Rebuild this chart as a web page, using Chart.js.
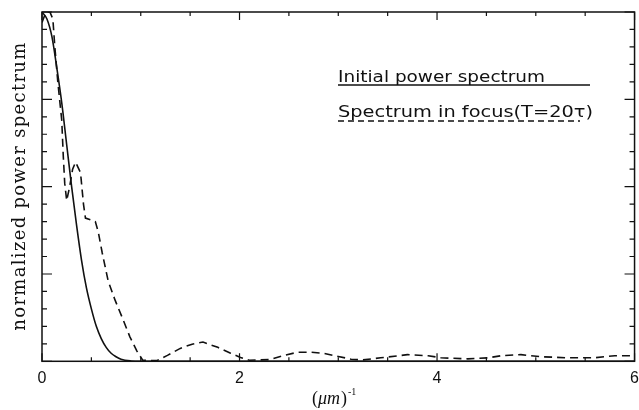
<!DOCTYPE html>
<html>
<head>
<meta charset="utf-8">
<script src="https://cdn.jsdelivr.net/npm/chart.js@4.4.0/dist/chart.umd.min.js"></script>
<style>
  body { margin: 0; background: #fff; }
  #wrap { width: 639px; height: 410px; }
</style>
</head>
<body>
<div id="wrap"><canvas id="spectrumChart" width="639" height="410"></canvas></div>
<script>
// Data
const initialX = [0, 0.05, 0.1, 0.15, 0.2, 0.25, 0.3, 0.35, 0.4, 0.45, 0.5, 0.55,
  0.6, 0.65, 0.7, 0.75, 0.8, 0.9, 1.0, 6];
const initialY = [1.0, 0.98, 0.93, 0.84, 0.74, 0.62, 0.50, 0.39, 0.29, 0.21, 0.15, 0.10,
  0.065, 0.04, 0.023, 0.013, 0.006, 0.001, 0, 0];

const focusX = [0, 0.04, 0.08, 0.11, 0.13, 0.16, 0.20, 0.215, 0.23, 0.25, 0.28, 0.31,
  0.34, 0.39, 0.42, 0.44, 0.49, 0.54, 0.57, 0.61, 0.67, 0.74, 0.82, 0.89, 0.96, 1.02,
  1.10, 1.17, 1.27, 1.40, 1.52, 1.63, 1.78, 1.91, 2.01, 2.10, 2.31, 2.45, 2.59, 2.72,
  2.85, 3.0, 3.13, 3.25, 3.43, 3.7, 3.91, 4.04, 4.31, 4.52, 4.65, 4.85, 5.06, 5.33,
  5.59, 5.8, 6.0];
const focusY = [0.97, 1.0, 1.0, 0.98, 0.90, 0.80, 0.69, 0.59, 0.51, 0.46, 0.50, 0.55,
  0.57, 0.54, 0.45, 0.41, 0.405, 0.40, 0.37, 0.31, 0.23, 0.175, 0.12, 0.07, 0.03, 0.003,
  0.002, 0.003, 0.017, 0.037, 0.049, 0.055, 0.04, 0.023, 0.011, 0.003, 0.005, 0.017,
  0.026, 0.026, 0.023, 0.014, 0.006, 0.004, 0.01, 0.019, 0.016, 0.01, 0.007, 0.01,
  0.016, 0.019, 0.013, 0.01, 0.01, 0.016, 0.016];

const xTickLabels = [0, 2, 4, 6];
const legendLabels = ['Initial power spectrum', 'Spectrum in focus(T=20\u03c4)'];

const ink = '#111';

const toPoints = (xs, ys) => xs.map((x, i) => ({x: x, y: ys[i]}));

// Frame, inward ticks, axis titles and the in-plot legend
const framePlugin = {
  id: 'frame',
  afterDraw(chart) {
    const {ctx, chartArea: a, scales: {x, y}} = chart;
    ctx.save();
    ctx.strokeStyle = ink;
    ctx.lineWidth = 1.5;
    ctx.strokeRect(a.left, a.top, a.right - a.left, a.bottom - a.top);

    ctx.lineWidth = 1.2;
    ctx.beginPath();
    for (let i = 0; i <= 20; i++) {
      const py = y.getPixelForValue(i * 0.05);
      const len = i % 5 === 0 ? 10 : 5;
      ctx.moveTo(a.left, py); ctx.lineTo(a.left + len, py);
      ctx.moveTo(a.right, py); ctx.lineTo(a.right - len, py);
    }
    for (let i = 0; i <= 12; i++) {
      const px = x.getPixelForValue(i * 0.5);
      const len = i % 4 === 0 ? 8 : 4;
      ctx.moveTo(px, a.bottom); ctx.lineTo(px, a.bottom - len);
      ctx.moveTo(px, a.top); ctx.lineTo(px, a.top + len);
    }
    ctx.stroke();

    // y axis title, stretched to the reference length
    ctx.fillStyle = ink;
    ctx.save();
    ctx.translate(20, 186);
    ctx.rotate(-Math.PI / 2);
    ctx.font = '18px "DejaVu Serif"';
    ctx.textAlign = 'center';
    ctx.textBaseline = 'middle';
    const yTitle = 'normalized power spectrum';
    const yw = ctx.measureText(yTitle).width;
    ctx.letterSpacing = Math.max(0, (288 - yw) / (yTitle.length - 1)) + 'px';
    ctx.fillText(yTitle, 0, 0);
    ctx.restore();

    // x axis title: (μm)⁻¹
    ctx.textBaseline = 'alphabetic';
    ctx.textAlign = 'left';
    let tx = 312;
    const ty = 404;
    ctx.font = '18px "Liberation Serif"';
    ctx.fillText('(', tx, ty); tx += ctx.measureText('(').width;
    ctx.font = 'italic 18px "Liberation Serif"';
    ctx.fillText('\u03bcm', tx, ty); tx += ctx.measureText('\u03bcm').width + 1;
    ctx.font = '18px "Liberation Serif"';
    ctx.fillText(')', tx, ty); tx += ctx.measureText(')').width;
    ctx.font = '10px "Liberation Serif"';
    ctx.fillText('-1', tx + 1, ty - 9);

    // legend
    const drawLabel = (text, left, base, width) => {
      ctx.save();
      ctx.font = '15px "DejaVu Sans"';
      const w = ctx.measureText(text).width;
      ctx.translate(left, base);
      ctx.scale(width / w, 1);
      ctx.fillText(text, 0, 0);
      ctx.restore();
    };
    drawLabel(legendLabels[0], 338, 82, 207);
    drawLabel(legendLabels[1], 338, 117, 255);

    ctx.lineWidth = 1.4;
    ctx.beginPath();
    ctx.moveTo(338, 85); ctx.lineTo(590, 85);
    ctx.stroke();
    ctx.setLineDash([6, 4]);
    ctx.beginPath();
    ctx.moveTo(338, 121); ctx.lineTo(580, 121);
    ctx.stroke();
    ctx.restore();
  }
};

new Chart(document.getElementById('spectrumChart'), {
  type: 'line',
  data: {
    datasets: [
      {
        label: legendLabels[0],
        data: toPoints(initialX, initialY),
        borderColor: ink,
        borderWidth: 1.6,
        pointRadius: 0,
        cubicInterpolationMode: 'monotone',
        fill: false
      },
      {
        label: legendLabels[1],
        data: toPoints(focusX, focusY),
        borderColor: ink,
        borderWidth: 1.6,
        borderDash: [8, 5],
        pointRadius: 0,
        tension: 0,
        fill: false
      }
    ]
  },
  options: {
    responsive: false,
    animation: false,
    devicePixelRatio: 1,
    layout: {padding: {left: 42, top: 12, right: 4, bottom: 21.5}},
    plugins: {legend: {display: false}, tooltip: {enabled: false}},
    scales: {
      x: {
        type: 'linear',
        min: 0,
        max: 6,
        grid: {display: false},
        border: {display: false},
        afterBuildTicks: (axis) => {
          axis.ticks = xTickLabels.map(v => ({value: v}));
        },
        ticks: {
          color: ink,
          padding: 0,
          maxRotation: 0,
          font: {family: '"Liberation Sans"', size: 16}
        }
      },
      y: {
        display: false,
        min: 0,
        max: 1
      }
    }
  },
  plugins: [framePlugin]
});
</script>
</body>
</html>
